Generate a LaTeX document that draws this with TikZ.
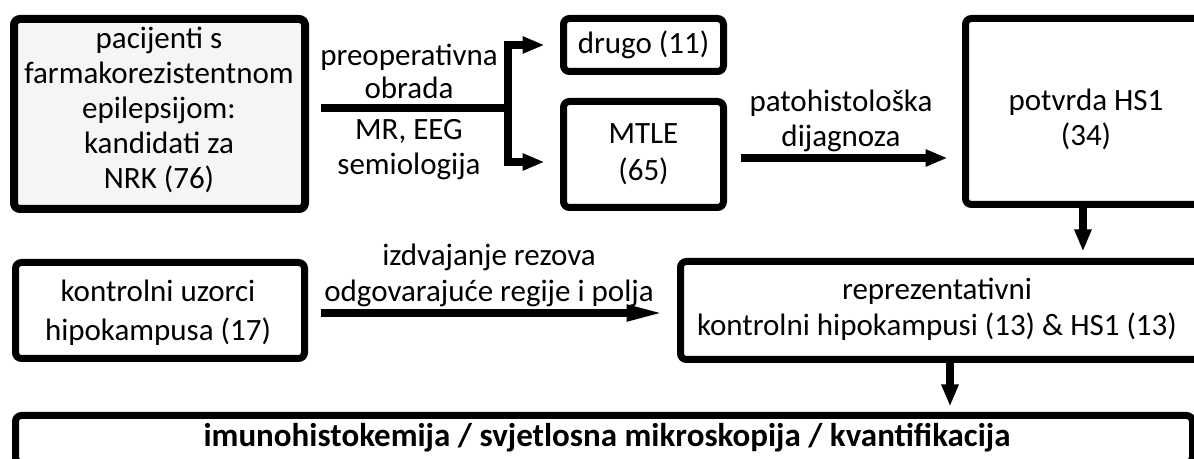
\documentclass[tikz,border=0pt]{standalone}
\usepackage{fontspec}
\setmainfont{Carlito}
\usetikzlibrary{arrows.meta}
\begin{document}
\begin{tikzpicture}[x=0.5pt,y=-0.5pt,
  box/.style={draw=black, line width=3.5pt, rounded corners=3pt, inner sep=0pt, fill=white},
  txt/.style={inner sep=0pt, align=center, font=\fontsize{15.5}{17.5}\selectfont},
  conn/.style={draw=black, line width=3.75pt},
  arr/.style={conn, -{Triangle[length=11pt,width=8pt]}},
  longarr/.style={conn, -{Triangle[length=19pt,width=7.5pt]}},
]
\fill[white] (0,0) rectangle (1194,459);
\useasboundingbox (0,0) rectangle (1194,459);
\clip (0,0) rectangle (1194,459);

% boxes
\node[box, line width=4pt, fill=black!4, minimum width=145.5pt, minimum height=95pt] (pac) at (159.5,114) {};
\node[txt] (pac-t) at (159,110) {pacijenti s\\farmakorezistentnom\\epilepsijom:\\kandidati za\\NRK (76)};

\node[box, txt, minimum width=80pt, minimum height=26.5pt] (drugo) at (643.5,45) {drugo (11)};
\node[box, txt, font=\fontsize{15.5}{18.5}\selectfont, minimum width=80pt, minimum height=53pt] (mtle) at (643.5,154.5) {MTLE\\(65)};

\node[box, minimum width=122.25pt, minimum height=93pt] (pot) at (1087.75,111.5) {};
\node[txt] (pot-t) at (1086,119.5) {potvrda HS1\\(34)};

\node[box, minimum width=144.5pt, minimum height=48pt] (kont) at (160,310.5) {};
\node[txt, font=\fontsize{15.5}{19.5}\selectfont] (kont-t) at (158,312.5) {kontrolni uzorci\\hipokampusa (17)};

\node[box, minimum width=264.75pt, minimum height=49pt] (repr) at (945.25,310.5) {};
\node[txt, font=\fontsize{15.5}{18}\selectfont] (repr-t) at (937,309) {reprezentativni\\kontrolni hipokampusi (13) \& HS1 (13)};

\node[box, minimum width=588.5pt, minimum height=23.75pt] (bot) at (604,439.25) {};
\node[txt, font=\fontsize{16.5}{18}\selectfont\bfseries] (bot-t) at (607,438) {imunohistokemija / svjetlosna mikroskopija / kvantifikacija};

% connectors
\coordinate (split) at (508,108);
\draw[conn, shorten <=6pt] (pac.east |- split) -- (split);
\draw[arr, shorten >=7.75pt] (split) |- (drugo.west);
\draw[arr, shorten >=7.75pt] (split) |- ([yshift=-3.75pt]mtle.west);
\node[txt, font=\fontsize{15.5}{16.5}\selectfont] (lab1) at (409,71.5) {preoperativna\\obrada};
\node[txt] (lab2) at (409,149.5) {MR, EEG\\semiologija};

\draw[arr, shorten <=6.75pt, shorten >=7.25pt] ([yshift=-1.75pt]mtle.east) -- ([yshift=-1.75pt]mtle.east -| pot.west);
\node[txt] (lab3) at (841,120.5) {patohistološka\\dijagnoza};

\draw[arr, shorten >=3.25pt] ([xshift=-2.4pt]pot.south) -- ([xshift=-2.4pt]pot.south |- repr.north);

\draw[longarr, shorten <=6.25pt, shorten >=6.25pt] ([yshift=-1.25pt]kont.east) -- ([yshift=-1.25pt]kont.east -| repr.west);
\node[txt, font=\fontsize{15.5}{18}\selectfont] (lab4) at (489,275) {izdvajanje rezova\\odgovarajuće regije i polja};

\draw[arr, shorten >=2.75pt] ([xshift=2.375pt]repr.south) -- ([xshift=2.375pt]repr.south |- bot.north);
\end{tikzpicture}
\end{document}
